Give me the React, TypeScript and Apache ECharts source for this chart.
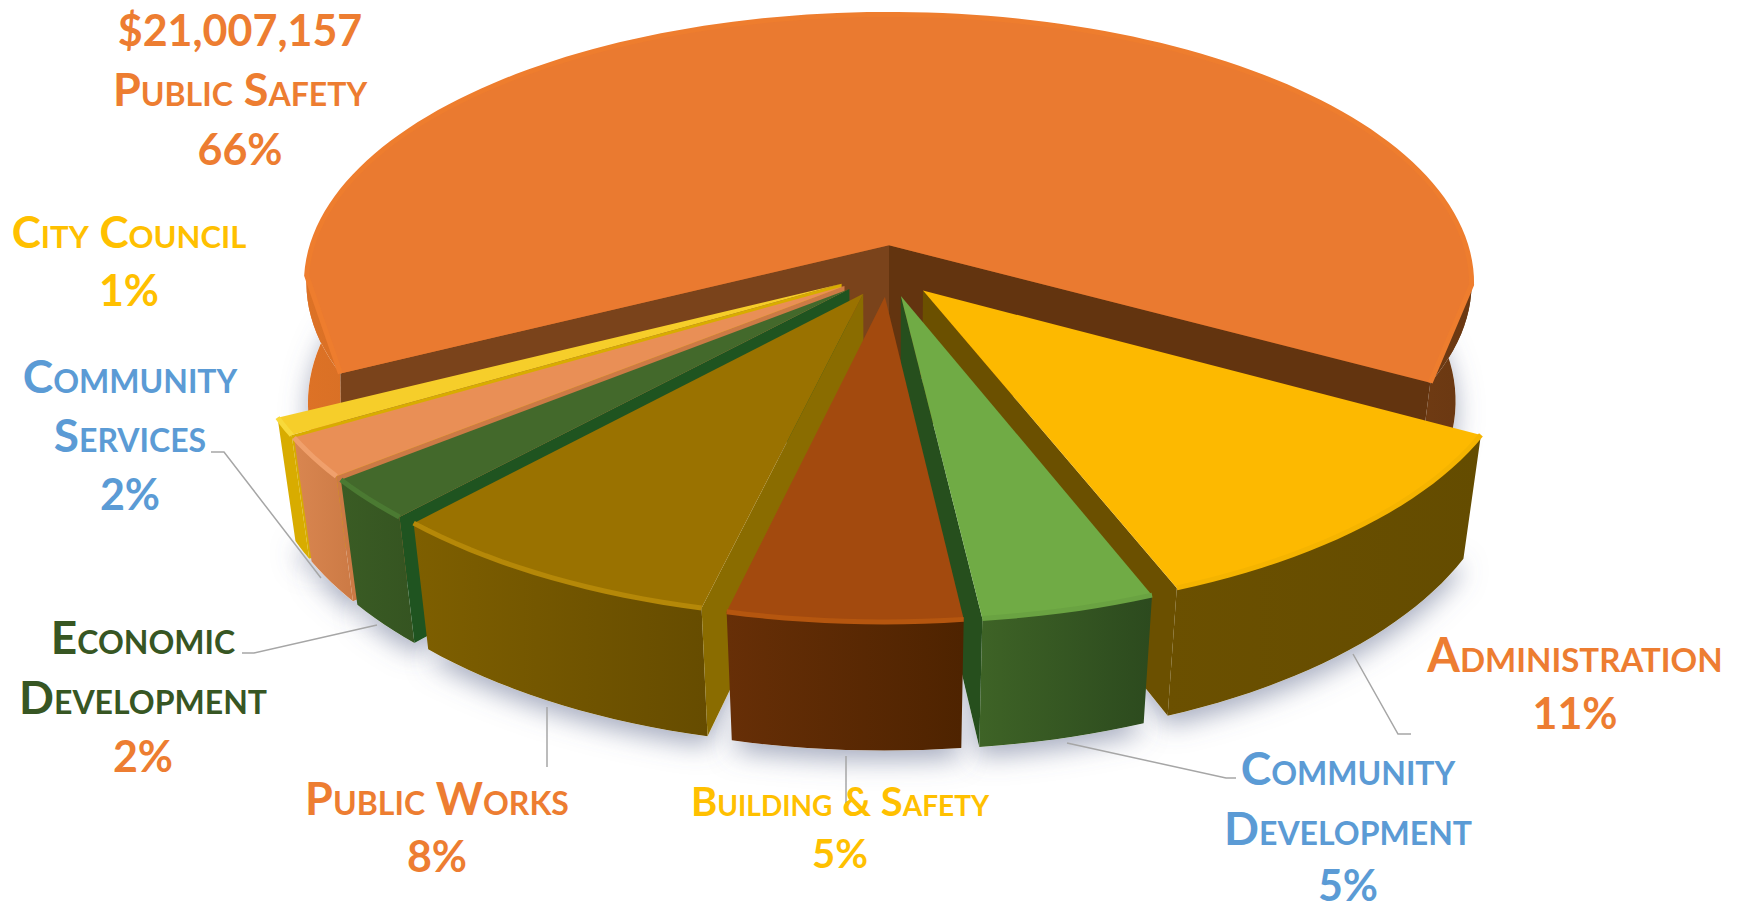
import React, { useEffect, useRef } from "react";
import * as echarts from "echarts";

const sliceNames = ["Public Safety", "Administration", "Community Development", "Building & Safety", "Public Works", "Economic Development", "Community Services", "City Council"];
const sliceValues = [65.6, 11, 4.1, 5.5, 8.1, 2.4, 2.3, 1];
const totalLabel = "$21,007,157";

const topColors = ["#EA7A30", "#FDB900", "#70AB45", "#A34A0E", "#9A7200", "#43692B", "#E98F56", "#F6CE2A"];
const bevelColors = ["#EE7D2E", "#F5B400", "#6AA342", "#B5560F", "#B58808", "#4B7A32", "#F0A06C", "#F8D93A"];
const rimFrom = ["#DD7226", "#6B5000", "#3E6326", "#672F07", "#7E5F00", "#3A5C24", "#D98650", "#D8AC00"];
const rimTo = ["#6A3812", "#644C00", "#2C4A1E", "#4E2300", "#664C00", "#355421", "#CC7A45", "#D8AC00"];
const startWall = ["#7A431B", "#63340F", "#2C4A1E", "#5C2A04", "#8A6C00", "#1F5420", "#CC7A45", "#D8AC00"];
const endWall = ["#63340F", "#6B5000", "#264F1D", "#5C2A04", "#6B5000", "#375623", "#CC7A45", "#D8AC00"];
const explodeBy = [0.1, 0.09, 0.09, 0.09, 0.09, 0.09, 0.09, 0.09];
const paintOrder = [0, 7, 6, 5, 4, 1, 2, 3];

const START_DEG = 242.9;
const CX = 888, CY = 272, R = 585, RY = 271, K = 0.143, TAPER = 0.028, DEPTH = 122;
const CHAMFER = 0.36;

const project = (X: number, Y: number, z: number): number[] => {
  const w = 1 - K * Y + TAPER * z;
  return [CX + (R * X) / w, CY + (RY * Y + DEPTH * z) / w];
};

const total = sliceValues.reduce((a, b) => a + b, 0);
const spans = sliceValues.map((_, i) => {
  const before = sliceValues.slice(0, i).reduce((a, b) => a + b, 0);
  const a0 = START_DEG + (before / total) * 360;
  const a1 = a0 + (sliceValues[i] / total) * 360;
  return [(a0 * Math.PI) / 180, (a1 * Math.PI) / 180];
});

const point = (i: number, ang: number, r: number, z: number) => {
  const [a0, a1] = spans[i];
  const mid = (a0 + a1) / 2;
  const e = explodeBy[i];
  return project(e * Math.sin(mid) + r * Math.sin(ang), -e * Math.cos(mid) - r * Math.cos(ang), z);
};
// The big slice's base flares a little on its left side only.
const outerAt = (i: number, ang: number) => (i === 0 && Math.sin(ang) < 0 ? 1.025 : 1);
const arc = (i: number, z: number): number[][] => {
  const [a0, a1] = spans[i];
  const n = Math.max(6, Math.ceil((a1 - a0) / 0.03));
  const pts: number[][] = [];
  for (let s = 0; s <= n; s++) {
    const ang = a0 + ((a1 - a0) * s) / n;
    pts.push(point(i, ang, z === 1 ? outerAt(i, ang) : 1, z));
  }
  return pts;
};
// The big slice's bevel cuts across its two outer corners.
const topEdge = (i: number): number[][] => {
  const [a0, a1] = spans[i];
  const span = a1 - a0;
  if (span < Math.PI) return arc(i, 0);
  const n = Math.ceil((span - 2 * CHAMFER) / 0.03);
  const pts = [point(i, a0, 1, 0)];
  for (let s = 0; s <= n; s++) pts.push(point(i, a0 + CHAMFER + ((span - 2 * CHAMFER) * s) / n, 1, 0));
  pts.push(point(i, a1, 1, 0));
  return pts;
};

const wallsOf = (i: number) => {
  const [a0, a1] = spans[i];
  const rimFill = () => new echarts.graphic.LinearGradient(0, 0, 1, 0, [{ offset: 0, color: rimFrom[i] }, { offset: 1, color: rimTo[i] }]);
  const wall = (ang: number, fill: string) => ({
    type: "polygon",
    shape: { points: [point(i, ang, 0, 0), point(i, ang, 1, 0), point(i, ang, outerAt(i, ang), 1), point(i, ang, 0, 1)] },
    style: { fill },
    silent: true,
  });
  const parts: any[] = [
    {
      type: "polygon",
      shape: { points: [...arc(i, 0), ...arc(i, 1).reverse()] },
      style: { fill: rimFill() },
      silent: true,
    },
    {
      type: "polygon",
      shape: { points: arc(i, 0) },
      style: { fill: rimFill() },
      silent: true,
    },
  ];
  if (Math.sin(a1) > 0) parts.push(wall(a1, endWall[i]));
  if (Math.sin(a0) < 0) parts.push(wall(a0, startWall[i]));
  return parts;
};
const topOf = (i: number) => {
  const edge = topEdge(i);
  return [
    { type: "polygon", shape: { points: [point(i, spans[i][0], 0, 0), ...edge] }, style: { fill: topColors[i] }, silent: true },
    { type: "polyline", shape: { points: edge }, style: { fill: "none", stroke: bevelColors[i], lineWidth: 5 }, silent: true },
  ];
};
const shadowOf = (i: number) => ({
  type: "polygon",
  shape: { points: [point(i, spans[i][0], 0, 1), ...arc(i, 1)] },
  style: { fill: "#ffffff", shadowBlur: 26, shadowColor: "rgba(95,105,140,0.55)", shadowOffsetY: 10 },
  silent: true,
});

const ORANGE = "#ED7D31", YELLOW = "#FFC000", BLUE = "#5B9BD5", GREEN = "#375623";
const textRows: [string, number, number, string, number][] = [
  [totalLabel, 240, 29, ORANGE, 43],
  [sliceNames[0], 240, 89, ORANGE, 45],
  ["66%", 240, 148, ORANGE, 43],
  [sliceNames[7], 129, 231, YELLOW, 44],
  ["1%", 129, 289, YELLOW, 43],
  ["Community", 130, 375, BLUE, 46],
  ["Services", 130, 434, BLUE, 46],
  ["2%", 130, 493, BLUE, 43],
  ["Economic", 143, 636, GREEN, 46],
  ["Development", 143, 696, GREEN, 46],
  ["2%", 143, 755, ORANGE, 43],
  [sliceNames[4], 437, 798, ORANGE, 45],
  ["8%", 437, 855, ORANGE, 43],
  [sliceNames[3], 840, 801, YELLOW, 40],
  ["5%", 840, 853, YELLOW, 40],
  ["Community", 1348, 767, BLUE, 46],
  ["Development", 1348, 827, BLUE, 46],
  ["5%", 1348, 884, BLUE, 43],
  [sliceNames[1], 1575, 654, ORANGE, 47],
  ["11%", 1575, 712, ORANGE, 43],
];
const leaders: number[][][] = [
  [[211, 452], [224, 452], [321, 578]],
  [[242, 653], [254, 653], [377, 625]],
  [[547, 707], [547, 767]],
  [[846, 756], [846, 803]],
  [[1067, 743], [1226, 778], [1236, 778]],
  [[1353, 654], [1398, 734], [1411, 734]],
];

export default function App() {
  const ref = useRef<HTMLDivElement>(null);
  useEffect(() => {
    document.body.style.margin = "0";
    document.body.style.background = "#fff";
    const chart = echarts.init(ref.current!, undefined, { renderer: "svg" });
    const seriesData = paintOrder.map((i) => ({ name: sliceNames[i], value: [i, sliceValues[i]] }));
    const layer = (fn: (i: number) => any) => ({
      type: "custom",
      coordinateSystem: "none",
      silent: true,
      data: seriesData,
      renderItem: (_: any, api: any) => ({ type: "group", children: fn(api.value(0)) }),
    });
    chart.setOption({
      animation: false,
      backgroundColor: "#ffffff",
      series: [
        layer((i) => [shadowOf(i)]),
        layer(wallsOf),
        layer(topOf),
      ],
      graphic: [
        ...leaders.map((points) => ({
          type: "polyline",
          z: 50,
          shape: { points },
          style: { fill: "none", stroke: "#A6A6A6", lineWidth: 1.5 },
          silent: true,
        })),
        ...textRows.map(([text, x, y, fill, fontSize]) => ({
          type: "text",
          z: 60,
          x,
          y,
          style: { text, fill, fontSize, fontWeight: "bold", fontFamily: "Lato", textAlign: "center", textVerticalAlign: "middle" },
          silent: true,
        })),
      ],
    });
    return () => chart.dispose();
  }, []);
  return (
    <>
      <style>{`svg text { font-variant: small-caps !important; }`}</style>
      <div ref={ref} style={{ width: 1741, height: 905 }} />
    </>
  );
}
